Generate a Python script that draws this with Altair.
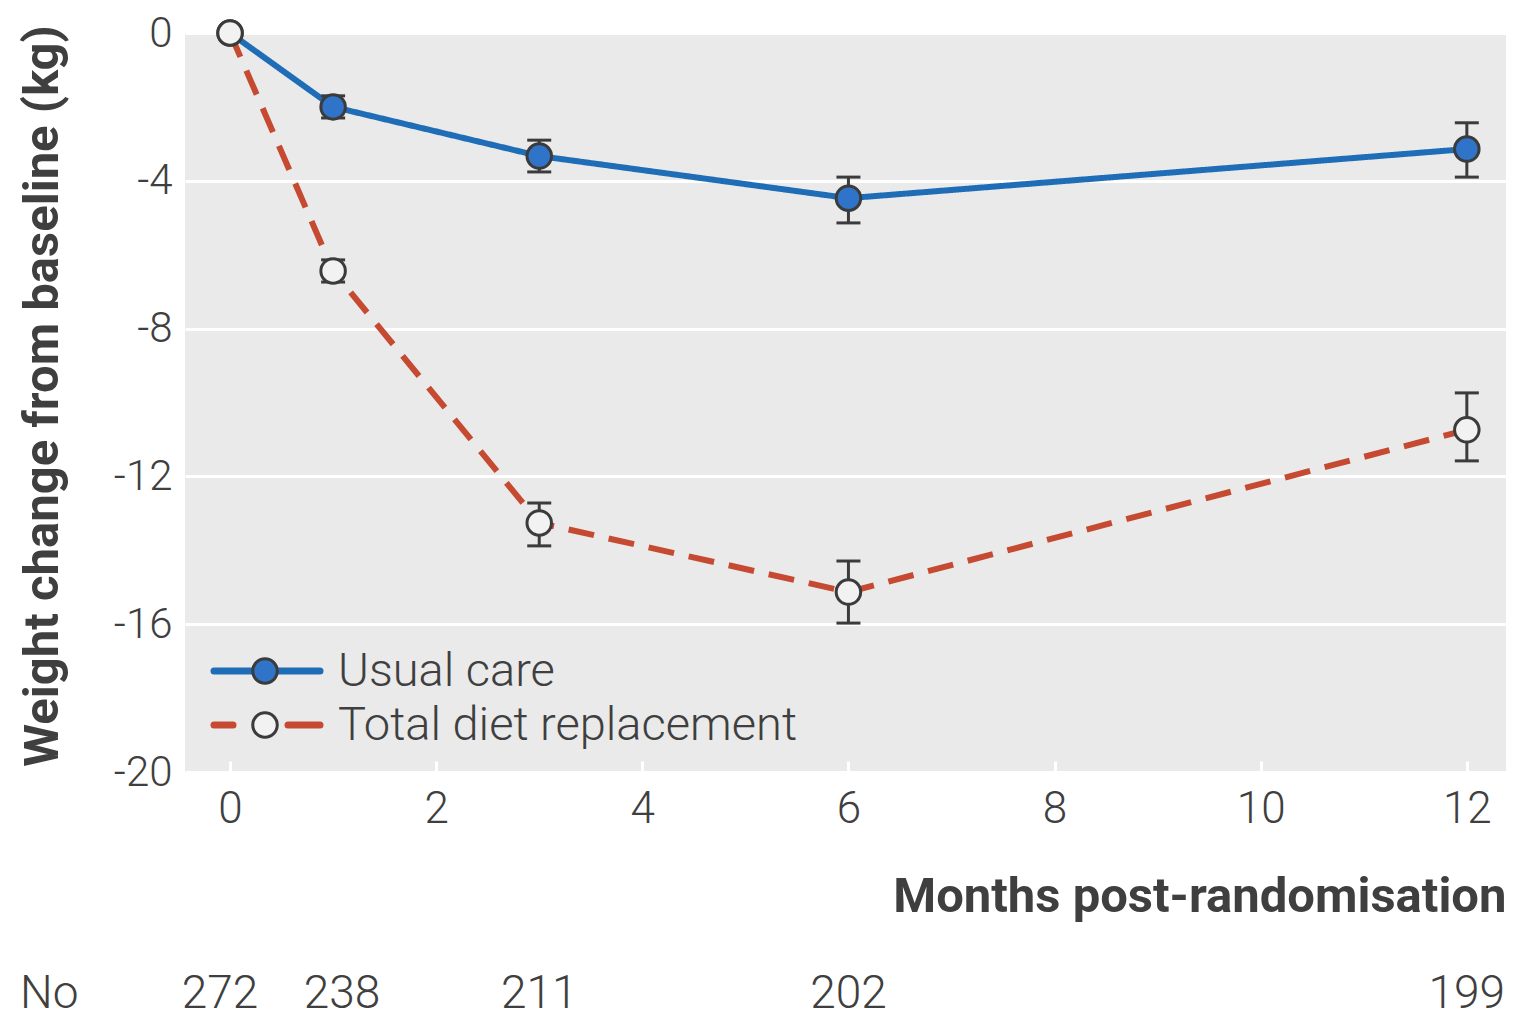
import altair as alt
import pandas as pd

# ---- data ----
months = [0, 1, 3, 6, 12]
usual_care = [0.0, -2.0, -3.33, -4.47, -3.14]
usual_lo = [0.0, -2.3, -3.76, -5.14, -3.90]
usual_hi = [0.0, -1.7, -2.90, -3.90, -2.43]
tdr = [0.0, -6.44, -13.26, -15.13, -10.74]
tdr_lo = [0.0, -6.74, -13.88, -15.97, -11.58]
tdr_hi = [0.0, -6.14, -12.72, -14.29, -9.74]
counts = ["272", "238", "211", "202", "199"]
series_names = ["Usual care", "Total diet replacement"]
y_ticks = [0, -4, -8, -12, -16, -20]
x_ticks = [0, 2, 4, 6, 8, 10, 12]

BLUE = "#1F6DB7"
RED = "#C54A31"
DARK = "#3B3B3B"
TEXT = "#3F3F3F"
FONT = "Roboto"
W, H = 1321, 739

rows = []
for name, vals, lo, hi in [
    (series_names[0], usual_care, usual_lo, usual_hi),
    (series_names[1], tdr, tdr_lo, tdr_hi),
]:
    for m, v, l, h in zip(months, vals, lo, hi):
        rows.append({"month": m, "value": v, "lo": l, "hi": h, "series": name})
df = pd.DataFrame(rows)
err = df[df["month"] > 0]

xs = alt.Scale(domain=[-0.437, 12.38], nice=False, zero=False)
ys = alt.Scale(domain=[-20, 0], nice=False)
color = alt.Color("series:N", scale=alt.Scale(domain=series_names, range=[BLUE, RED]), legend=None)
fill = alt.Fill("series:N", scale=alt.Scale(domain=series_names, range=["#2F74C8", "#F2F2F2"]), legend=None)
dash = alt.StrokeDash("series:N", scale=alt.Scale(domain=series_names, range=[[1, 0], [26, 15]]), legend=None)

base = alt.Chart(df)

lines = base.mark_line(strokeWidth=6).encode(
    x=alt.X("month:Q", scale=xs,
            axis=alt.Axis(values=x_ticks, format="d", grid=False, domain=False, tickColor="white",
                          tickWidth=3, tickSize=11, offset=-11, labelFontSize=44, labelPadding=15,
                          labelColor=TEXT, labelFont=FONT, labelFontWeight=300,
                          title="Months post-randomisation", titleFont=FONT, titleFontSize=49,
                          titleFontWeight="bold", titleColor=TEXT, titleAnchor="end", titleAlign="right",
                          titleBaseline="alphabetic", titleX=W, titleY=150)),
    y=alt.Y("value:Q", scale=ys,
            axis=alt.Axis(values=y_ticks, labelExpr="toString(datum.value)", grid=True, gridColor="white",
                          gridWidth=3, gridOpacity=1, ticks=False, domain=False, labelFontSize=42,
                          labelPadding=13, labelColor=TEXT, labelFont=FONT, labelFontWeight=300,
                          title="Weight change from baseline (kg)", titleFont=FONT, titleFontSize=49,
                          titleFontWeight="bold", titleColor=TEXT, titleBaseline="alphabetic",
                          titleX=-128, titleY=H / 2 - 7)),
    color=color,
    strokeDash=dash,
    detail="series:N",
)

bars = alt.Chart(err).mark_rule(color=DARK, strokeWidth=3).encode(
    x=alt.X("month:Q", scale=xs), y=alt.Y("lo:Q", scale=ys), y2="hi:Q")
cap_lo = alt.Chart(err).mark_tick(color=DARK, orient="horizontal", size=24, thickness=3, opacity=1).encode(
    x=alt.X("month:Q", scale=xs), y=alt.Y("lo:Q", scale=ys))
cap_hi = alt.Chart(err).mark_tick(color=DARK, orient="horizontal", size=24, thickness=3, opacity=1).encode(
    x=alt.X("month:Q", scale=xs), y=alt.Y("hi:Q", scale=ys))

points = base.mark_point(shape="circle", filled=True, size=600, stroke=DARK, strokeWidth=3, opacity=1).encode(
    x=alt.X("month:Q", scale=xs), y=alt.Y("value:Q", scale=ys), fill=fill)

# ---- custom legend (inside plot, lower left) ----
leg_df = pd.DataFrame({"series": series_names})
leg1 = leg_df.iloc[[0]]
leg2 = leg_df.iloc[[1]]
Y1, Y2 = 638, 692
l_rule1 = alt.Chart(leg1).mark_rule(color=BLUE, strokeWidth=7, strokeCap="round").encode(
    x=alt.value(29), x2=alt.value(135), y=alt.value(Y1))
l_rule2a = alt.Chart(leg2).mark_rule(color=RED, strokeWidth=7, strokeCap="round").encode(
    x=alt.value(29), x2=alt.value(48), y=alt.value(Y2))
l_rule2b = alt.Chart(leg2).mark_rule(color=RED, strokeWidth=7, strokeCap="round").encode(
    x=alt.value(103), x2=alt.value(135), y=alt.value(Y2))
l_pt1 = alt.Chart(leg1).mark_point(shape="circle", filled=True, size=600, stroke=DARK, strokeWidth=3,
                                    opacity=1, fill="#2F74C8").encode(x=alt.value(80), y=alt.value(Y1))
l_pt2 = alt.Chart(leg2).mark_point(shape="circle", filled=True, size=600, stroke=DARK, strokeWidth=3,
                                    opacity=1, fill="#F2F2F2").encode(x=alt.value(80), y=alt.value(Y2))
l_txt1 = alt.Chart(leg1).mark_text(align="left", baseline="middle", fontSize=47, font=FONT, fontWeight=300,
                                    color=TEXT).encode(x=alt.value(153), y=alt.value(Y1 + 1), text="series:N")
l_txt2 = alt.Chart(leg2).mark_text(align="left", baseline="middle", fontSize=47, font=FONT, fontWeight=300,
                                    color=TEXT).encode(x=alt.value(153), y=alt.value(Y2 + 1), text="series:N")

# ---- numbers at risk row ----
CY = 961
cnt_df = pd.DataFrame({"month": months, "n": counts})
cnt_style = dict(align="center", baseline="middle", fontSize=46, font=FONT, fontWeight=300, color=TEXT)
cnt_first = alt.Chart(cnt_df[cnt_df["month"] == 0]).mark_text(dx=-10, **cnt_style).encode(
    x=alt.X("month:Q", scale=xs), y=alt.value(CY), text="n:N")
cnt_second = alt.Chart(cnt_df[cnt_df["month"] == 1]).mark_text(dx=9, **cnt_style).encode(
    x=alt.X("month:Q", scale=xs), y=alt.value(CY), text="n:N")
cnt_rest = alt.Chart(cnt_df[cnt_df["month"] > 1]).mark_text(**cnt_style).encode(
    x=alt.X("month:Q", scale=xs), y=alt.value(CY), text="n:N")
no_lbl = alt.Chart(pd.DataFrame({"t": ["No"]})).mark_text(
    align="left", baseline="middle", fontSize=46, font=FONT, fontWeight=300, color=TEXT).encode(
    x=alt.value(-165), y=alt.value(CY), text="t:N")

chart = alt.layer(
    lines, bars, cap_lo, cap_hi, points,
    l_rule1, l_rule2a, l_rule2b, l_pt1, l_pt2, l_txt1, l_txt2,
    cnt_first, cnt_second, cnt_rest, no_lbl,
).properties(
    width=W, height=H,
    autosize=alt.AutoSizeParams(type="none"),
    padding={"left": 177, "top": 25, "right": 0, "bottom": 249},
    background="white",
).configure_view(fill="#EAEAEA", strokeWidth=0)

chart.save("out.html", embed_options={"renderer": "svg", "actions": False})
